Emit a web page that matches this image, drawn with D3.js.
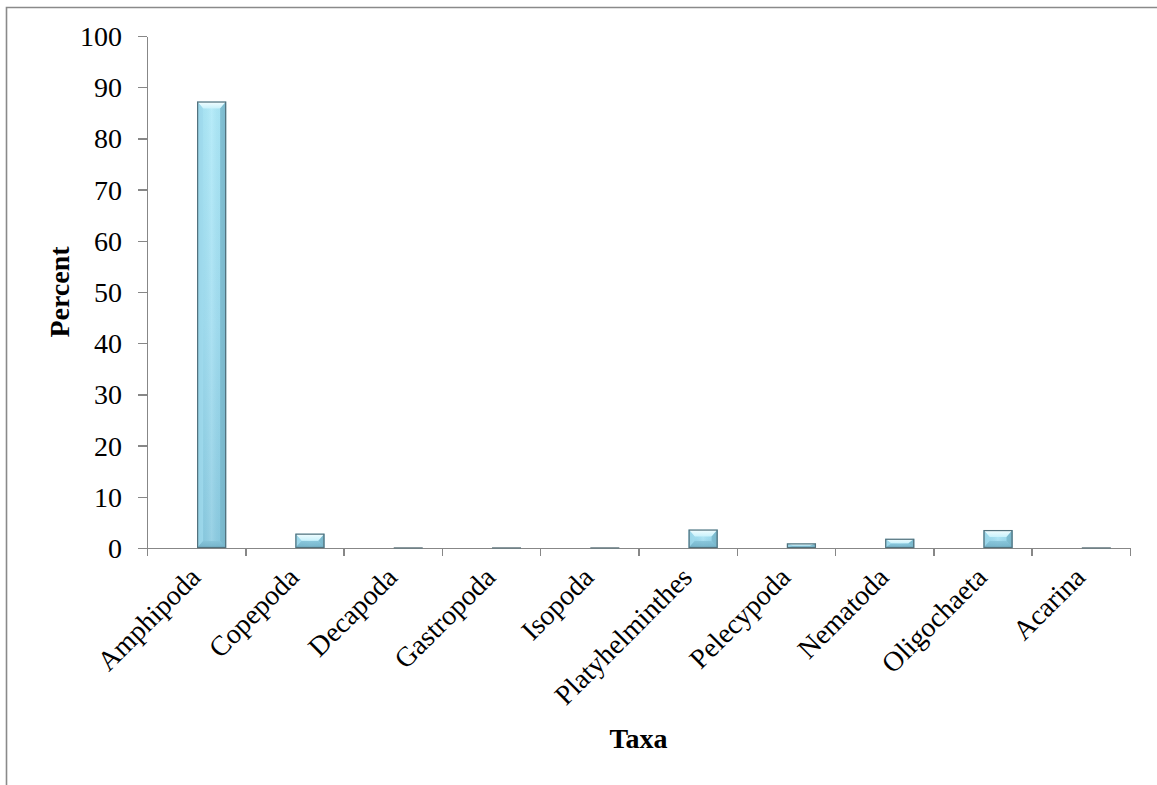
<!DOCTYPE html>
<html>
<head>
<meta charset="utf-8">
<script src="https://cdn.jsdelivr.net/npm/d3@7"></script>
<style>
  html, body { margin: 0; padding: 0; background: #fff; }
  svg { display: block; }
  .axis path, .axis line { stroke: #878787; stroke-width: 1.4; shape-rendering: crispEdges; }
  .axis text { font-family: "Liberation Serif", serif; font-size: 28px; fill: #000; }
</style>
</head>
<body>
<svg id="chart" width="1157" height="785"></svg>
<script>
// Relative abundance of benthic taxa (percent of total individuals)
const categories = ["Amphipoda", "Copepoda", "Decapoda", "Gastropoda", "Isopoda",
                    "Platyhelminthes", "Pelecypoda", "Nematoda", "Oligochaeta", "Acarina"];
const percent = [87.2, 2.8, 0, 0, 0, 3.6, 0.9, 1.8, 3.5, 0];
const yTicks = [0, 10, 20, 30, 40, 50, 60, 70, 80, 90, 100];

const W = 1157, H = 785;
const plot = { left: 147, right: 1130, top: 36, bottom: 548 };

const svg = d3.select("#chart");

svg.append("rect").attr("width", W).attr("height", H).attr("fill", "#fff");

// chart-area frame (only top and left edges fall inside the page)
svg.append("path")
  .attr("d", `M6.5,${H} V7.5 H${W}`)
  .attr("fill", "none").attr("stroke", "#8a8a8a").attr("stroke-width", 1.6);

const x = d3.scaleBand().domain(categories).range([plot.left, plot.right]).padding(0);
const xi = d3.scaleLinear().domain([0, categories.length]).range([plot.left, plot.right]);
const y = d3.scaleLinear().domain([0, 100]).range([plot.bottom, plot.top]);

// gradients for the bevelled columns
const defs = svg.append("defs");
function grad(id, x2, y2, stops) {
  const g = defs.append("linearGradient").attr("id", id)
    .attr("x1", 0).attr("y1", 0).attr("x2", x2).attr("y2", y2);
  stops.forEach(s => g.append("stop").attr("offset", s[0]).attr("stop-color", s[1]).attr("stop-opacity", s[2] ?? 1));
}
grad("body", 0, 1, [[0, "#aee9f8"], [0.5, "#a2def1"], [1, "#8bcbe1"]]);
grad("shade", 1, 0, [[0, "#2f6f86", 0.28], [0.18, "#2f6f86", 0.05], [0.5, "#ffffff", 0.12], [0.82, "#2f6f86", 0.05], [1, "#2f6f86", 0.3]]);
grad("topBevel", 0, 1, [[0, "#f4feff"], [1, "#c8f1fb"]]);
grad("botBevel", 0, 1, [[0, "#86c3d8"], [1, "#6eaec5"]]);

const yAxis = d3.axisLeft(y).tickValues(yTicks).tickSize(9).tickSizeOuter(0).tickPadding(16);
svg.append("g").attr("class", "axis").attr("transform", `translate(${plot.left},0)`)
  .call(yAxis)
  .call(g => g.selectAll("text").attr("dy", "0.34em"));

const xAxis = d3.axisBottom(xi).tickValues(d3.range(categories.length + 1)).tickFormat("").tickSize(8).tickSizeOuter(0);
svg.append("g").attr("class", "axis").attr("transform", `translate(0,${plot.bottom})`).call(xAxis);

// columns
const bw = x.bandwidth() * 0.295;
const bars = svg.append("g").selectAll("g").data(categories.map((c, i) => ({ c, v: percent[i] })))
  .join("g")
  .attr("transform", d => `translate(${x(d.c) + x.bandwidth() * 0.51},${y(d.v)})`);

bars.each(function (d) {
  const g = d3.select(this);
  const h = y(0) - y(d.v);
  if (h <= 0.5) {
    g.append("line").attr("x1", 0).attr("x2", bw).attr("y1", 0).attr("y2", 0)
      .attr("stroke", "#6c7f86").attr("stroke-width", 1.6);
    return;
  }
  const bx = Math.min(6, bw / 2), by = Math.min(7, h / 2);
  g.append("rect").attr("width", bw).attr("height", h).attr("fill", "url(#body)");
  g.append("rect").attr("width", bw).attr("height", h).attr("fill", "url(#shade)");
  // top bevel
  g.append("path").attr("d", `M0,0 H${bw} L${bw - bx},${by} H${bx} Z`).attr("fill", "url(#topBevel)");
  // side bevels
  g.append("path").attr("d", `M0,0 L${bx},${by} V${h - by} L0,${h} Z`).attr("fill", "#9fd9ec").attr("opacity", 0.8);
  g.append("path").attr("d", `M${bw},0 L${bw - bx},${by} V${h - by} L${bw},${h} Z`).attr("fill", "#78b6cb").attr("opacity", 0.8);
  // bottom bevel
  g.append("path").attr("d", `M0,${h} L${bx},${h - by} H${bw - bx} L${bw},${h} Z`).attr("fill", "url(#botBevel)").attr("opacity", 0.85);
  g.append("rect").attr("x", 0.5).attr("y", 0.5).attr("width", bw - 1).attr("height", Math.max(0, h - 1))
    .attr("fill", "none").attr("stroke", "#52707b").attr("stroke-width", 1.2);
});

// category labels, slanted
svg.append("g").selectAll("text").data(categories).join("text")
  .attr("transform", d => `translate(${x(d) + x.bandwidth() / 2 + 6},${plot.bottom + 31}) rotate(-45)`)
  .attr("text-anchor", "end")
  .style("font-family", "'Liberation Serif', serif").style("font-size", "28px")
  .text(d => d);

// axis titles
svg.append("text")
  .attr("transform", `translate(69,${(plot.top + plot.bottom) / 2}) rotate(-90)`)
  .attr("text-anchor", "middle")
  .style("font-family", "'Liberation Serif', serif").style("font-size", "28px").style("font-weight", "bold")
  .text("Percent");

svg.append("text")
  .attr("x", (plot.left + plot.right) / 2).attr("y", 748)
  .attr("text-anchor", "middle")
  .style("font-family", "'Liberation Serif', serif").style("font-size", "28px").style("font-weight", "bold")
  .text("Taxa");
</script>
</body>
</html>
